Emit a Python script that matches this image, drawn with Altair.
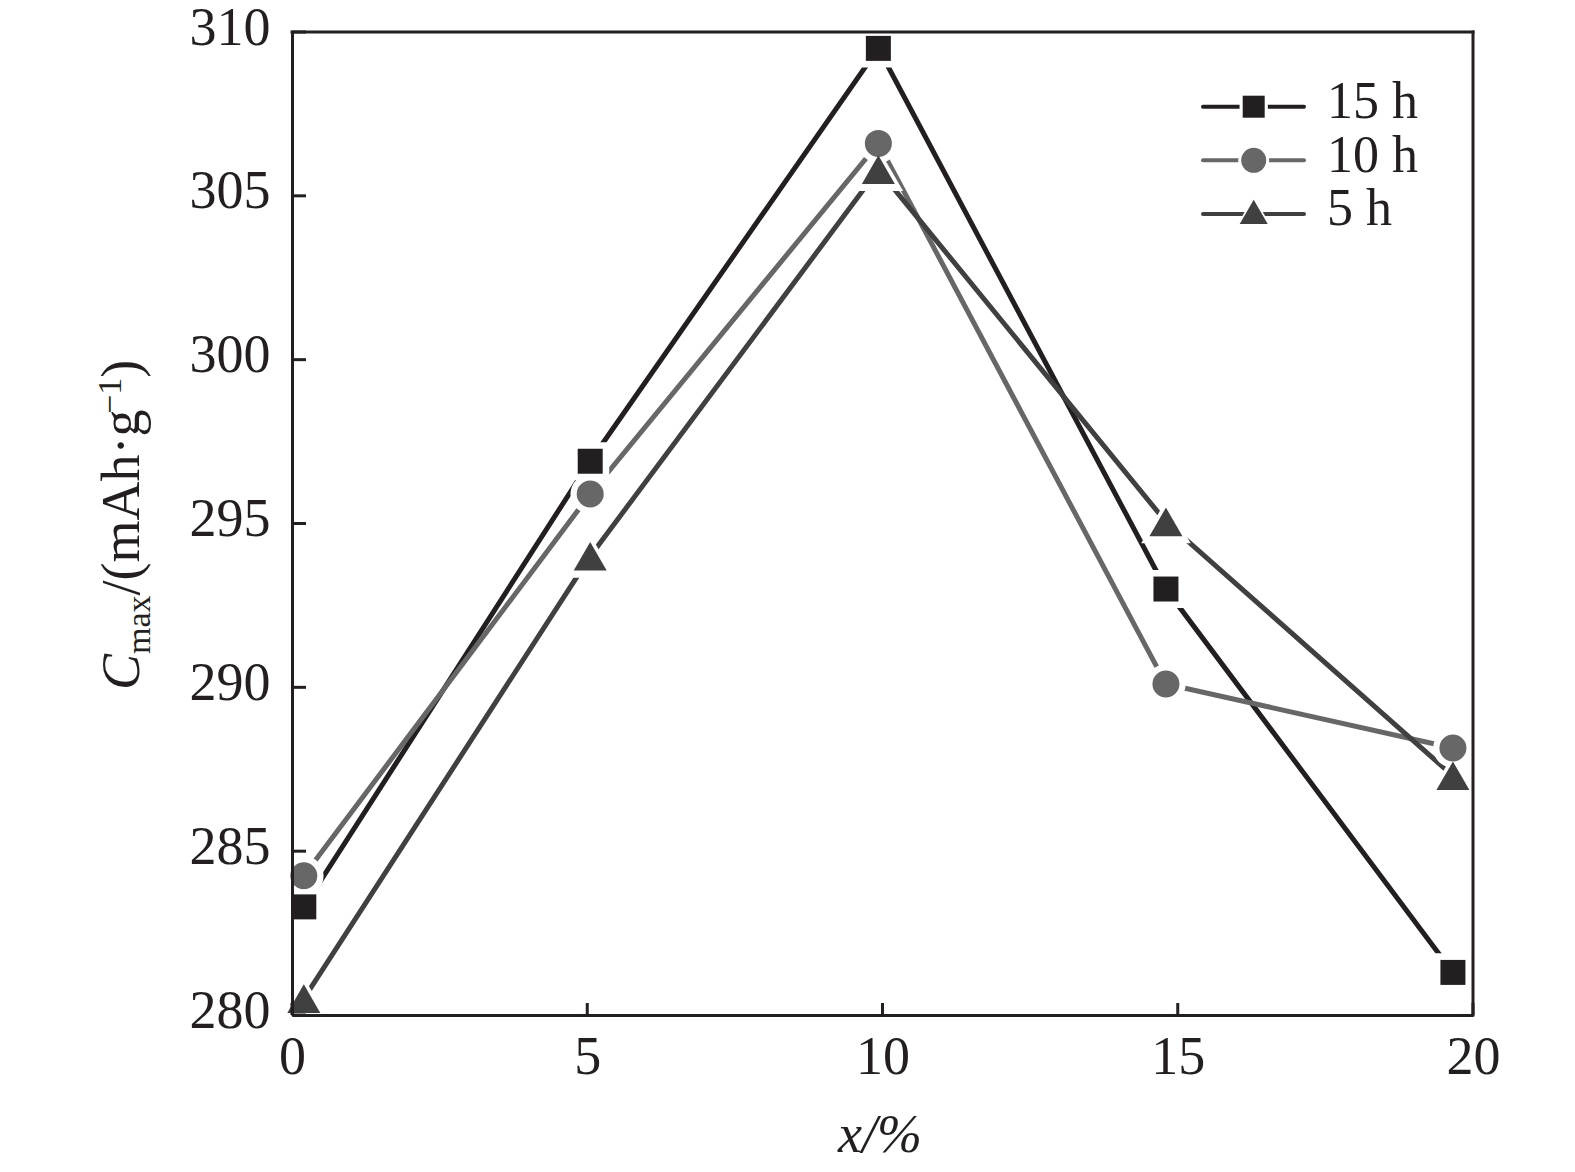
import altair as alt
import pandas as pd

# ---- data ----
series_names = ["15 h", "10 h", "5 h"]
x_values = [0.2, 5.05, 9.93, 14.8, 19.66]
cap_15h = [283.3, 296.9, 309.5, 293.0, 281.3]
cap_10h = [284.25, 295.9, 306.6, 290.1, 288.15]
cap_5h = [280.5, 294.0, 305.8, 295.05, 287.3]
x_ticks = [0, 5, 10, 15, 20]
y_ticks = [280, 285, 290, 295, 300, 305, 310]

# ---- styles ----
colors = ["#231f20", "#676767", "#404040"]
shapes = ["square", "circle", "triangle-up"]
marker_sizes = [625, 730, 1090]
halo_sizes = [1450, 1560, 2450]
leg_marker_sizes = [484, 625, 784]
leg_halo_sizes = [800, 960, 1300]
INK = "#231f20"
FONT = "Liberation Serif"
W, H = 1181, 983

rows = []
for name, vals in zip(series_names, [cap_15h, cap_10h, cap_5h]):
    for xv, yv in zip(x_values, vals):
        rows.append({"series": name, "x": xv, "y": yv})
df = pd.DataFrame(rows)

xs = alt.Scale(domain=[0, 20], nice=False, zero=False)
ys = alt.Scale(domain=[280, 310], nice=False, zero=False)

x_axis = alt.Axis(values=x_ticks, format="d", ticks=False, grid=False, labelFont=FONT,
                  labelFontSize=54, labelColor=INK, labelPadding=15,
                  domainColor=INK, domainWidth=3, title=None, zindex=1,
                  labelFlush=False)
y_axis = alt.Axis(values=y_ticks, format="d", ticks=False, grid=False, labelFont=FONT,
                  labelFontSize=54, labelColor=INK, labelPadding=22, labelOffset=-4,
                  domainColor=INK, domainWidth=3, title=None, zindex=1,
                  labelFlush=False)

base = alt.Chart(df)
lines = base.mark_line(strokeWidth=5).encode(
    x=alt.X("x:Q", scale=xs, axis=x_axis),
    y=alt.Y("y:Q", scale=ys, axis=y_axis),
    color=alt.Color("series:N", scale=alt.Scale(domain=series_names, range=colors), legend=None),
)

layers = [lines]
halo_layers = []
marker_layers = []
for name, shp, ms, hs, col in zip(series_names, shapes, marker_sizes, halo_sizes, colors):
    sub = base.transform_filter(alt.datum.series == name)
    halo_layers.append(sub.mark_point(filled=True, opacity=1, shape=shp, size=hs,
                                      color="white", strokeWidth=0).encode(
        x=alt.X("x:Q", scale=xs), y=alt.Y("y:Q", scale=ys)))
    marker_layers.append(sub.mark_point(filled=True, opacity=1, shape=shp, size=ms,
                                        color=col, strokeWidth=0).encode(
        x=alt.X("x:Q", scale=xs), y=alt.Y("y:Q", scale=ys)))
layers += halo_layers + marker_layers

# inward ticks
ytick_df = pd.DataFrame({"v": y_ticks})
xtick_df = pd.DataFrame({"v": x_ticks})
layers.append(alt.Chart(ytick_df).mark_rule(strokeWidth=3, color=INK).encode(
    y=alt.Y("v:Q", scale=ys), x=alt.value(0), x2=alt.value(14)))
layers.append(alt.Chart(xtick_df).mark_rule(strokeWidth=3, color=INK).encode(
    x=alt.X("v:Q", scale=xs), y=alt.value(H), y2=alt.value(H - 12)))

# top and right frame
one = pd.DataFrame({"a": [0]})
layers.append(alt.Chart(one).mark_rule(strokeWidth=3, color=INK, strokeCap="square").encode(
    x=alt.value(0), x2=alt.value(W), y=alt.value(0)))
layers.append(alt.Chart(one).mark_rule(strokeWidth=3, color=INK, strokeCap="square").encode(
    x=alt.value(W), y=alt.value(0), y2=alt.value(H)))

# legend
for i, (name, shp, ms, hs, col) in enumerate(zip(series_names, shapes, leg_marker_sizes, leg_halo_sizes, colors)):
    ly = 74.7 + i * 53.6
    my = ly - 2 if shp == "triangle-up" else ly
    layers.append(alt.Chart(one).mark_rule(strokeWidth=4, color=col, strokeCap="round").encode(
        x=alt.value(911), x2=alt.value(1012), y=alt.value(ly)))
    layers.append(alt.Chart(one).mark_point(filled=True, opacity=1, shape=shp, size=hs,
                                            color="white", strokeWidth=0).encode(
        x=alt.value(961.7), y=alt.value(my)))
    layers.append(alt.Chart(one).mark_point(filled=True, opacity=1, shape=shp, size=ms,
                                            color=col, strokeWidth=0).encode(
        x=alt.value(961.7), y=alt.value(my)))
    layers.append(alt.Chart(one).mark_text(text=name, font=FONT, fontSize=52, color=INK,
                                           align="left", baseline="alphabetic").encode(
        x=alt.value(1035), y=alt.value(ly + 11.5)))

# y title pieces (rotated)
F, f = 54, 34
pieces = [
    ("C", F, "italic", -153, 0.667 * F),
    ("max", f, "normal", -142, 1.722 * f),
    ("/(mAh·g", F, "normal", -153, 3.361 * F),
    ("−1", f, "normal", -171, 1.064 * f),
    (")", F, "normal", -153, 0.333 * F),
]
ypos = 658
for txt, fs, style, bx, wdt in pieces:
    layers.append(alt.Chart(one).mark_text(text=txt, font=FONT, fontSize=fs, fontStyle=style,
                                           color=INK, angle=270, align="left",
                                           baseline="alphabetic").encode(
        x=alt.value(bx), y=alt.value(ypos)))
    ypos -= wdt

# x title
layers.append(alt.Chart(one).mark_text(text="x/%", font=FONT, fontSize=54, fontStyle="italic",
                                       color=INK, align="center", baseline="alphabetic").encode(
    x=alt.value(588), y=alt.value(1120)))

chart = alt.layer(*layers).properties(
    width=W, height=H,
    autosize=alt.AutoSizeParams(type="none"),
    padding={"left": 284, "top": 24, "right": 86, "bottom": 148},
    background="white",
).configure_view(stroke=None)

chart.save("out.html", embed_options={"renderer": "svg", "actions": False})
